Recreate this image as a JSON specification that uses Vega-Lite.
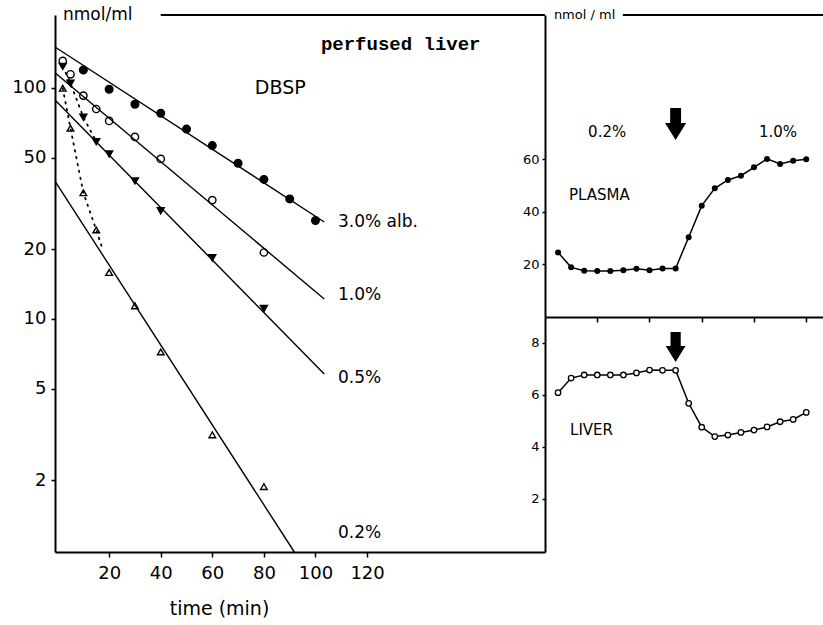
{
  "$schema": "https://vega.github.io/schema/vega-lite/v6.json",
  "background": "white",
  "padding": {"left": 11, "top": 6, "right": 0, "bottom": 0},
  "spacing": 0,
  "bounds": "flush",
  "config": {
    "view": {"stroke": null},
    "axis": {"domainColor": "black", "domainWidth": 2, "tickColor": "black", "tickWidth": 1.5, "labelColor": "black", "labelFont": "DejaVu Sans", "titleFont": "DejaVu Sans", "titleColor": "black", "grid": false, "titleFontWeight": "normal"},
    "text": {"font": "DejaVu Sans", "color": "black"}
  },
  "hconcat": [
    {
      "width": 490,
      "height": 537,
      "layer": [
        {
          "data": {"values": [
            {"series": "3.0%", "t": 10, "value": 119.7},
            {"series": "3.0%", "t": 20, "value": 98.7},
            {"series": "3.0%", "t": 30, "value": 85},
            {"series": "3.0%", "t": 40, "value": 77.7},
            {"series": "3.0%", "t": 50, "value": 66.4},
            {"series": "3.0%", "t": 60, "value": 56.3},
            {"series": "3.0%", "t": 70, "value": 47.2},
            {"series": "3.0%", "t": 80, "value": 40.2},
            {"series": "3.0%", "t": 90, "value": 33.1},
            {"series": "3.0%", "t": 100, "value": 26.7},
            {"series": "1.0%", "t": 2, "value": 131},
            {"series": "1.0%", "t": 5, "value": 114.6},
            {"series": "1.0%", "t": 10, "value": 92.7},
            {"series": "1.0%", "t": 15, "value": 81.1},
            {"series": "1.0%", "t": 20, "value": 72},
            {"series": "1.0%", "t": 30, "value": 61.4},
            {"series": "1.0%", "t": 40, "value": 49.3},
            {"series": "1.0%", "t": 60, "value": 32.7},
            {"series": "1.0%", "t": 80, "value": 19.4},
            {"series": "0.5%", "t": 2, "value": 124},
            {"series": "0.5%", "t": 5, "value": 104.8},
            {"series": "0.5%", "t": 10, "value": 74.7},
            {"series": "0.5%", "t": 15, "value": 58.6},
            {"series": "0.5%", "t": 20, "value": 51.8},
            {"series": "0.5%", "t": 30, "value": 39.6},
            {"series": "0.5%", "t": 40, "value": 29.4},
            {"series": "0.5%", "t": 60, "value": 18.4},
            {"series": "0.5%", "t": 80, "value": 11.1},
            {"series": "0.2%", "t": 2, "value": 99.7},
            {"series": "0.2%", "t": 5, "value": 67},
            {"series": "0.2%", "t": 10, "value": 35.2},
            {"series": "0.2%", "t": 15, "value": 24.3},
            {"series": "0.2%", "t": 20, "value": 15.9},
            {"series": "0.2%", "t": 30, "value": 11.4},
            {"series": "0.2%", "t": 40, "value": 7.2},
            {"series": "0.2%", "t": 60, "value": 3.15},
            {"series": "0.2%", "t": 80, "value": 1.88}
          ]},
          "mark": {"type": "point", "filled": true, "stroke": "black", "strokeWidth": 1.4, "opacity": 1},
          "encoding": {
            "x": {"field": "t", "type": "quantitative", "scale": {"domain": [-1, 189], "nice": false, "zero": false},
                  "axis": {"values": [20, 40, 60, 80, 100, 120], "title": "time (min)", "labelFontSize": 18, "tickSize": 5, "labelPadding": 7, "titleFontSize": 19, "titleX": 164, "titleY": 47, "titleBaseline": "top", "titleAnchor": "middle", "titleAlign": "center"}},
            "y": {"field": "value", "type": "quantitative", "scale": {"type": "log", "domain": [0.98, 207], "nice": false},
                  "axis": {"values": [2, 5, 10, 20, 50, 100], "title": null, "labelFontSize": 18, "tickSize": 4, "labelPadding": 5, "format": "d"}},
            "shape": {"field": "series", "type": "nominal", "scale": {"domain": ["3.0%", "1.0%", "0.5%", "0.2%"], "range": ["circle", "circle", "triangle-down", "triangle-up"]}, "legend": null},
            "fill": {"field": "series", "type": "nominal", "scale": {"domain": ["3.0%", "1.0%", "0.5%", "0.2%"], "range": ["black", "white", "black", "white"]}, "legend": null},
            "size": {"field": "series", "type": "ordinal", "scale": {"domain": ["3.0%", "1.0%", "0.5%", "0.2%"], "range": [58, 44, 80, 70]}, "legend": null}
          }
        },
        {
          "data": {"values": [
            {"series": "3.0%", "t": -1, "value": 150.5},
            {"series": "3.0%", "t": 103.4, "value": 26.3},
            {"series": "1.0%", "t": -1, "value": 116.5},
            {"series": "1.0%", "t": 103.4, "value": 12.2},
            {"series": "0.5%", "t": -1, "value": 88.8},
            {"series": "0.5%", "t": 103.4, "value": 5.78},
            {"series": "0.2%", "t": -1, "value": 39.5},
            {"series": "0.2%", "t": 91.8, "value": 0.98}
          ]},
          "mark": {"type": "line", "color": "black", "strokeWidth": 1.4},
          "encoding": {
            "x": {"field": "t", "type": "quantitative"},
            "y": {"field": "value", "type": "quantitative"},
            "detail": {"field": "series"}
          }
        },
        {
          "data": {"values": [
            {"series": "0.5%", "t": 2, "value": 124},
            {"series": "0.5%", "t": 5, "value": 104.8},
            {"series": "0.5%", "t": 10, "value": 74.7},
            {"series": "0.5%", "t": 15, "value": 58.6},
            {"series": "0.2%", "t": 2, "value": 99.7},
            {"series": "0.2%", "t": 5, "value": 67},
            {"series": "0.2%", "t": 10, "value": 35.2},
            {"series": "0.2%", "t": 15, "value": 24.3},
            {"series": "0.2%", "t": 17.5, "value": 20}
          ]},
          "mark": {"type": "line", "color": "black", "strokeWidth": 1.8, "strokeDash": [1.5, 5.5], "strokeCap": "round"},
          "encoding": {
            "x": {"field": "t", "type": "quantitative"},
            "y": {"field": "value", "type": "quantitative"},
            "detail": {"field": "series"}
          }
        },
        {
          "data": {"values": [
            {"label": "3.0% alb.", "t": 108.7, "value": 26.3},
            {"label": "1.0%", "t": 108.7, "value": 12.7},
            {"label": "0.5%", "t": 108.7, "value": 5.56},
            {"label": "0.2%", "t": 108.7, "value": 1.18}
          ]},
          "mark": {"type": "text", "align": "left", "baseline": "middle", "fontSize": 17},
          "encoding": {
            "x": {"field": "t", "type": "quantitative"},
            "y": {"field": "value", "type": "quantitative"},
            "text": {"field": "label"}
          }
        },
        {
          "data": {"values": [{"label": "DBSP", "t": 76.5, "value": 100}]},
          "mark": {"type": "text", "align": "left", "baseline": "middle", "fontSize": 19},
          "encoding": {
            "x": {"field": "t", "type": "quantitative"},
            "y": {"field": "value", "type": "quantitative"},
            "text": {"field": "label"}
          }
        },
        {
          "data": {"values": [{"label": "perfused liver", "t": 102.1, "value": 155}]},
          "mark": {"type": "text", "align": "left", "baseline": "middle", "fontSize": 19, "font": "Liberation Mono", "fontWeight": "bold"},
          "encoding": {
            "x": {"field": "t", "type": "quantitative"},
            "y": {"field": "value", "type": "quantitative"},
            "text": {"field": "label"}
          }
        },
        {
          "data": {"values": [{"label": "nmol/ml", "t": 2.1, "value": 207}]},
          "mark": {"type": "text", "align": "left", "baseline": "middle", "fontSize": 17},
          "encoding": {
            "x": {"field": "t", "type": "quantitative"},
            "y": {"field": "value", "type": "quantitative"},
            "text": {"field": "label"}
          }
        },
        {
          "data": {"values": [{"from": 40, "to": 189, "value": 207}]},
          "mark": {"type": "rule", "color": "black", "strokeWidth": 2},
          "encoding": {
            "x": {"field": "from", "type": "quantitative"},
            "x2": {"field": "to"},
            "y": {"field": "value", "type": "quantitative"}
          }
        }
      ]
    },
    {
      "vconcat": [
        {
          "width": 279,
          "height": 302,
          "layer": [
            {
              "data": {"name": "plasma", "values": [
                {"t": 5, "value": 24.6}, {"t": 10, "value": 18.9}, {"t": 15, "value": 17.6}, {"t": 20, "value": 17.5},
                {"t": 25, "value": 17.5}, {"t": 30, "value": 17.8}, {"t": 35, "value": 18.4}, {"t": 40, "value": 17.8},
                {"t": 45, "value": 18.5}, {"t": 50, "value": 18.5}, {"t": 55, "value": 30.4}, {"t": 60, "value": 42.4},
                {"t": 65, "value": 49}, {"t": 70, "value": 52.2}, {"t": 75, "value": 53.8}, {"t": 80, "value": 57},
                {"t": 85, "value": 60.2}, {"t": 90, "value": 58.3}, {"t": 95, "value": 59.5}, {"t": 100, "value": 60.1}
              ]},
              "mark": {"type": "line", "color": "black", "strokeWidth": 1.5, "point": {"filled": true, "color": "black", "size": 36}},
              "encoding": {
                "x": {"field": "t", "type": "quantitative", "scale": {"domain": [0, 106.8], "nice": false, "zero": false},
                      "axis": {"values": [20, 40, 60, 80, 100], "labels": false, "title": null, "tickSize": 5}},
                "y": {"field": "value", "type": "quantitative", "scale": {"domain": [0, 115], "nice": false},
                      "axis": {"values": [20, 40, 60], "title": null, "labelFontSize": 13, "tickSize": 3, "labelPadding": 3}}
              }
            },
            {
              "data": {"values": [
                {"label": "0.2%", "t": 16.5, "value": 70.5},
                {"label": "1.0%", "t": 81.9, "value": 70.5},
                {"label": "PLASMA", "t": 9.2, "value": 46.5}
              ]},
              "mark": {"type": "text", "align": "left", "baseline": "middle", "fontSize": 15},
              "encoding": {
                "x": {"field": "t", "type": "quantitative"},
                "y": {"field": "value", "type": "quantitative"},
                "text": {"field": "label"}
              }
            },
            {
              "data": {"values": [{"label": "nmol / ml", "t": 3.4, "value": 115}]},
              "mark": {"type": "text", "align": "left", "baseline": "middle", "fontSize": 13},
              "encoding": {
                "x": {"field": "t", "type": "quantitative"},
                "y": {"field": "value", "type": "quantitative"},
                "text": {"field": "label"}
              }
            },
            {
              "data": {"values": [{"from": 29.8, "to": 106.8, "value": 115}]},
              "mark": {"type": "rule", "color": "black", "strokeWidth": 2},
              "encoding": {
                "x": {"field": "from", "type": "quantitative"},
                "x2": {"field": "to"},
                "y": {"field": "value", "type": "quantitative"}
              }
            },
            {
              "data": {"values": [{"t": 50, "value": 73.5}]},
              "mark": {"type": "point", "filled": true, "color": "black", "opacity": 1, "size": 1024,
                       "shape": "M-0.34,-1L0.34,-1L0.34,-0.06L0.66,-0.06L0,1L-0.66,-0.06L-0.34,-0.06Z"},
              "encoding": {
                "x": {"field": "t", "type": "quantitative"},
                "y": {"field": "value", "type": "quantitative"}
              }
            }
          ]
        },
        {
          "width": 279,
          "height": 235,
          "layer": [
            {
              "data": {"values": [
                {"t": 5, "value": 6.09}, {"t": 10, "value": 6.65}, {"t": 15, "value": 6.77}, {"t": 20, "value": 6.77},
                {"t": 25, "value": 6.77}, {"t": 30, "value": 6.77}, {"t": 35, "value": 6.85}, {"t": 40, "value": 6.96},
                {"t": 45, "value": 6.95}, {"t": 50, "value": 6.95}, {"t": 55, "value": 5.68}, {"t": 60, "value": 4.76},
                {"t": 65, "value": 4.4}, {"t": 70, "value": 4.46}, {"t": 75, "value": 4.56}, {"t": 80, "value": 4.65},
                {"t": 85, "value": 4.77}, {"t": 90, "value": 4.97}, {"t": 95, "value": 5.06}, {"t": 100, "value": 5.33}
              ]},
              "layer": [
                {
                  "mark": {"type": "line", "color": "black", "strokeWidth": 1.5},
                  "encoding": {
                    "x": {"field": "t", "type": "quantitative", "scale": {"domain": [0, 106.8], "nice": false, "zero": false},
                          "axis": {"values": [20, 40, 60, 80, 100], "title": null, "labelFontSize": 18, "tickSize": 0, "labelPadding": 13}},
                    "y": {"field": "value", "type": "quantitative", "scale": {"domain": [-0.04, 9], "nice": false, "zero": false},
                          "axis": {"values": [2, 4, 6, 8], "title": null, "labelFontSize": 13, "tickSize": 3, "labelPadding": 3}}
                  }
                },
                {
                  "mark": {"type": "point", "filled": true, "fill": "white", "stroke": "black", "strokeWidth": 1.3, "size": 30, "opacity": 1},
                  "encoding": {
                    "x": {"field": "t", "type": "quantitative", "axis": {"orient": "top", "values": [20, 40, 60, 80, 100], "labels": false, "title": null, "tickSize": 5, "domain": false}},
                    "y": {"field": "value", "type": "quantitative"}
                  }
                }
              ]
            },
            {
              "data": {"values": [{"label": "LIVER", "t": 9.6, "value": 4.65}]},
              "mark": {"type": "text", "align": "left", "baseline": "middle", "fontSize": 15},
              "encoding": {
                "x": {"field": "t", "type": "quantitative"},
                "y": {"field": "value", "type": "quantitative"},
                "text": {"field": "label"}
              }
            },
            {
              "data": {"values": [{"t": 50, "value": 7.85}]},
              "mark": {"type": "point", "filled": true, "color": "black", "opacity": 1, "size": 900,
                       "shape": "M-0.34,-1L0.34,-1L0.34,-0.06L0.66,-0.06L0,1L-0.66,-0.06L-0.34,-0.06Z"},
              "encoding": {
                "x": {"field": "t", "type": "quantitative"},
                "y": {"field": "value", "type": "quantitative"}
              }
            }
          ]
        }
      ],
      "spacing": 0,
      "bounds": "flush"
    }
  ]
}
